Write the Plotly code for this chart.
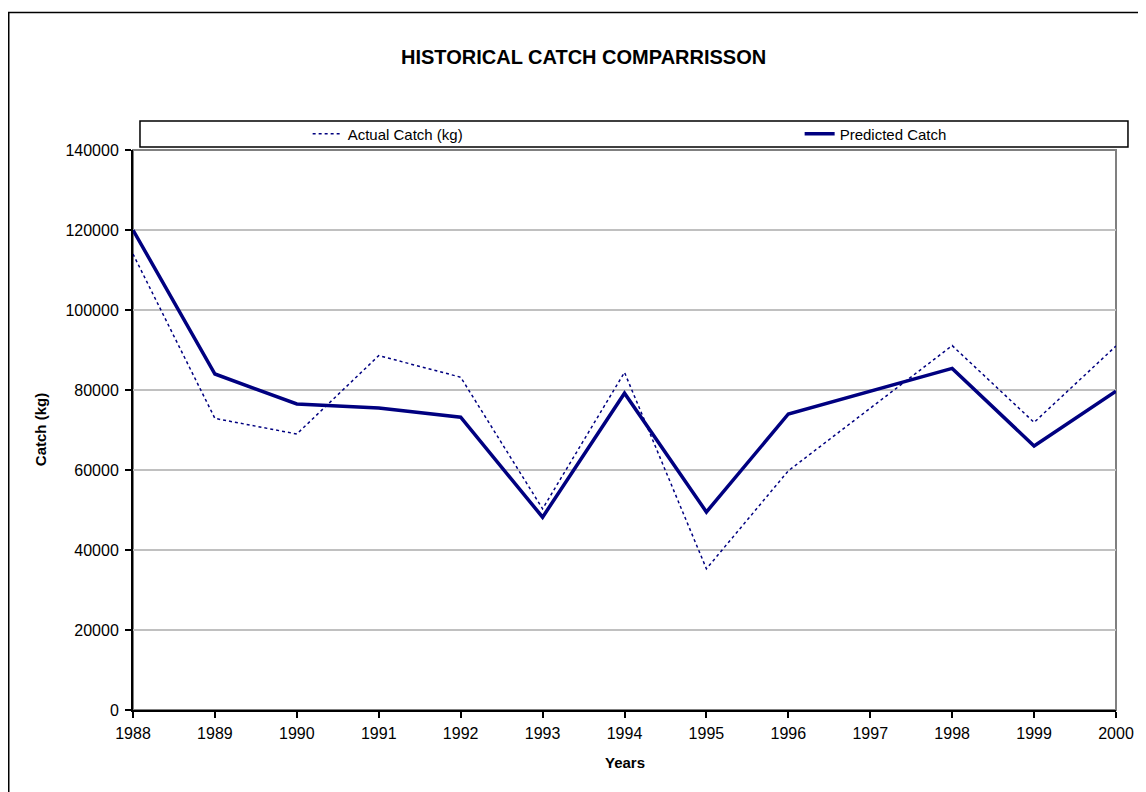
import plotly.graph_objects as go

years = [1988, 1989, 1990, 1991, 1992, 1993, 1994, 1995, 1996, 1997, 1998, 1999, 2000]
actual_catch = [114000, 72900, 69000, 88600, 83200, 50300, 84400, 35300, 59800, 75500, 91100, 71900, 91000]
predicted_catch = [120000, 84000, 76500, 75500, 73200, 48200, 79200, 49500, 74000, 79700, 85400, 66000, 79700]

y_ticks = [0, 20000, 40000, 60000, 80000, 100000, 120000, 140000]

FONT = "Arial, Liberation Sans, sans-serif"
NAVY = "#000080"

# the page body adds 8px, so work in page pixels and shift back
OFF = 8
W, H = 1146 - OFF, 792 - OFF
L, R, T, B = 133 - OFF, 1118 - OFF, 150 - OFF, 710 - OFF


def px_x(x):
    # page pixel -> paper x
    return (x - OFF - L) / (R - L)


def px_y(y):
    # page pixel -> paper y
    return (B - (y - OFF)) / (B - T)


fig = go.Figure()
fig.add_trace(go.Scatter(x=years, y=actual_catch, mode="lines", name="Actual Catch (kg)",
                         line=dict(color=NAVY, width=1.5, dash="dot"), legend="legend"))
fig.add_trace(go.Scatter(x=years, y=predicted_catch, mode="lines", name="Predicted Catch",
                         line=dict(color=NAVY, width=3.5), legend="legend2"))

legend_style = dict(orientation="h", xanchor="left", yanchor="middle", y=px_y(134),
                    font=dict(size=15), bgcolor="rgba(0,0,0,0)", borderwidth=0)

fig.update_layout(
    width=W, height=H,
    margin=dict(l=L, r=W - R, t=T, b=H - B),
    paper_bgcolor="white", plot_bgcolor="white",
    font=dict(family=FONT, color="black", size=16),
    showlegend=True,
    legend=dict(x=px_x(308), **legend_style),
    legend2=dict(x=px_x(801), **legend_style),
    xaxis=dict(range=[1988, 2000], tickmode="array", tickvals=years, ticktext=[str(y) for y in years],
               showgrid=False, zeroline=False, showline=True, linecolor="black", linewidth=2,
               ticks="outside", ticklen=6, tickwidth=2, tickcolor="black",
               ticklabelstandoff=2, tickfont=dict(size=16)),
    yaxis=dict(range=[0, 140000], tickmode="array", tickvals=y_ticks, ticktext=[str(v) for v in y_ticks],
               showgrid=True, gridcolor="#c0c0c0", gridwidth=1.5, zeroline=False,
               showline=True, linecolor="black", linewidth=2,
               ticks="outside", ticklen=6, tickwidth=2, tickcolor="black",
               ticklabelstandoff=3, tickfont=dict(size=16)),
)

shapes = [
    # plot area border (grey top / right)
    dict(type="rect", xref="paper", yref="paper", x0=0, x1=1, y0=0, y1=1,
         line=dict(color="#808080", width=2), layer="below"),
    # outer chart frame
    dict(type="rect", xref="paper", yref="paper", x0=px_x(8.5), x1=px_x(1170), y0=px_y(12.5), y1=px_y(820),
         line=dict(color="black", width=1.5)),
    # legend box
    dict(type="rect", xref="paper", yref="paper", x0=px_x(140), x1=px_x(1130), y0=px_y(121), y1=px_y(147),
         line=dict(color="black", width=1.5)),
]
fig.update_layout(shapes=shapes)

fig.add_annotation(text="<b>HISTORICAL CATCH COMPARRISSON</b>", xref="paper", yref="paper",
                   x=px_x(584), y=px_y(57), showarrow=False, font=dict(size=20, family=FONT),
                   xanchor="center", yanchor="middle")
fig.add_annotation(text="<b>Years</b>", xref="paper", yref="paper",
                   x=px_x(626), y=px_y(763), showarrow=False, font=dict(size=15, family=FONT),
                   xanchor="center", yanchor="middle")
fig.add_annotation(text="<b>Catch (kg)</b>", xref="paper", yref="paper",
                   x=px_x(40), y=px_y(430), showarrow=False, textangle=-90,
                   font=dict(size=15, family=FONT), xanchor="center", yanchor="middle")

fig.write_html("out.html")
